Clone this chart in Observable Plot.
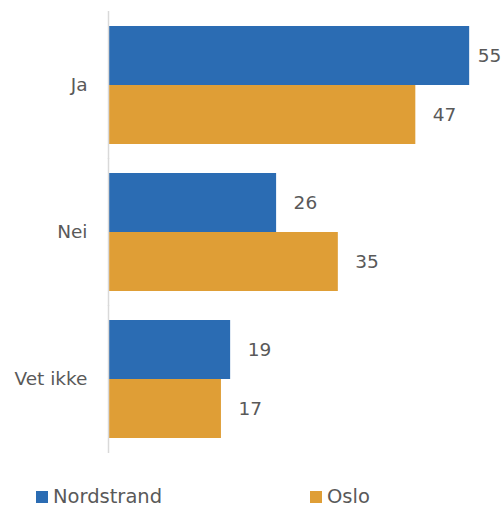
<!DOCTYPE html>
<html><head><meta charset="utf-8">
<script src="https://cdn.jsdelivr.net/npm/d3@7"></script>
<script src="https://cdn.jsdelivr.net/npm/@observablehq/plot@0.6"></script>
<style>
body{margin:0;background:#fff;font-family:"DejaVu Sans",sans-serif;}
#wrap{position:relative;width:503px;height:507px;overflow:hidden;}
.leg{position:absolute;top:488px;font-size:19.5px;line-height:18px;color:#595959;display:flex;align-items:center;white-space:nowrap;}
.sw{width:12px;height:12px;margin-right:5px;display:inline-block;}
</style></head>
<body><div id="wrap"></div>
<script>
const categories = ["Ja", "Nei", "Vet ikke"];
const series = ["Nordstrand", "Oslo"];
const nordstrand = [55, 25.6, 18.6];
const oslo = [46.8, 35, 17.2];
const colors = ["#2b6cb3", "#df9e36"];

const data = [];
categories.forEach((c, i) => {
  data.push({cat: c, s: series[0], v: nordstrand[i]});
  data.push({cat: c, s: series[1], v: oslo[i]});
});
const fmt = d => d3.format(".0f")(d.v);
const labelStyle = {x: "v", y: "s", text: fmt, textAnchor: "start", fill: "#595959", fontSize: 18.5};

const chart = Plot.plot({
  width: 503, height: 470,
  marginLeft: 108, marginRight: 1, marginTop: 11, marginBottom: 17,
  style: {fontFamily: "'DejaVu Sans', sans-serif", fontSize: "18.5px", color: "#595959", background: "#fff"},
  x: {domain: [0, 60], axis: null},
  y: {domain: series, axis: null, paddingInner: 0, paddingOuter: 0},
  fy: {domain: categories, paddingInner: 0.2, paddingOuter: 0.1, label: null, tickSize: 0, tickPadding: 21},
  color: {domain: series, range: colors},
  facet: {data, y: "cat", label: null},
  marks: [
    Plot.barX(data, {x: "v", y: "s", fill: "s"}),
    Plot.text(data, {...labelStyle, filter: d => d.v < 52, dx: 17}),
    Plot.text(data, {...labelStyle, filter: d => d.v >= 52, dx: 8}),
    Plot.ruleX([0], {stroke: "#d9d9d9", strokeWidth: 1.5, insetTop: -15, insetBottom: -15})
  ]
});
document.getElementById("wrap").appendChild(chart);

const legItems = [
  {name: series[0], color: colors[0], left: 36},
  {name: series[1], color: colors[1], left: 310}
];
legItems.forEach(it => {
  const d = document.createElement("div");
  d.className = "leg";
  d.style.left = it.left + "px";
  d.innerHTML = `<span class="sw" style="background:${it.color}"></span><span>${it.name}</span>`;
  document.getElementById("wrap").appendChild(d);
});
</script></body></html>
